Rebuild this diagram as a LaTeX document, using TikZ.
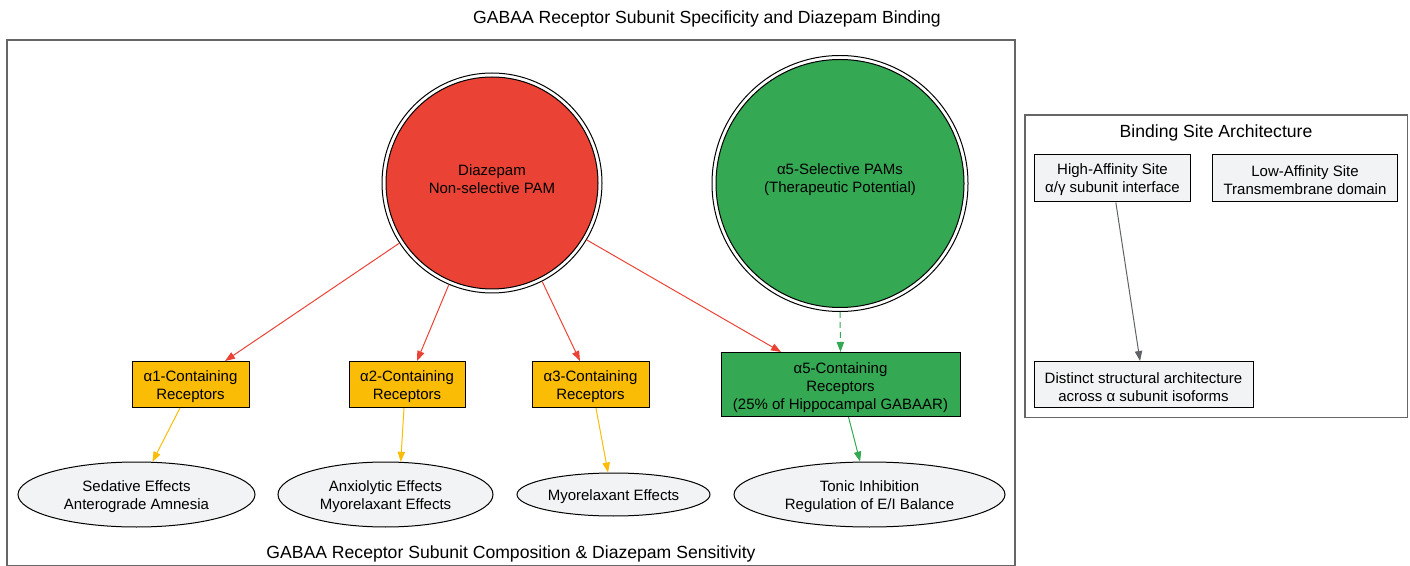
\documentclass[tikz,border=0pt]{standalone}
\usepackage{fontspec}
\setmainfont{Liberation Sans}
\usetikzlibrary{arrows.meta,shapes.geometric}
\definecolor{gred}{HTML}{EA4335}
\definecolor{gyel}{HTML}{FBBC05}
\definecolor{ggrn}{HTML}{34A853}
\definecolor{glt}{HTML}{F1F3F4}
\definecolor{ggry}{HTML}{5F6368}
\definecolor{clus}{HTML}{666666}
\begin{document}
\begin{tikzpicture}[x=0.75pt,y=-0.75pt,
  every node/.style={font=\fontsize{11.25}{13.5}\selectfont, align=center, inner sep=0pt},
  box/.style={draw=black, line width=0.75pt, rectangle},
  eff/.style={draw=black, line width=0.75pt, ellipse, fill=glt},
  arr/.style={line width=0.75pt, -{Triangle[length=7.5pt,width=5.5pt]}},
  lbl/.style={font=\fontsize{13.2}{16}\selectfont},
  clusterbox/.style={draw=clus, line width=0.9pt}]
\useasboundingbox (0,0) rectangle (1410,566);
\node[lbl] (title) at (707,19) {GABAA Receptor Subunit Specificity and Diazepam Binding};
% clusters
\draw[clusterbox] (7,40) rectangle (1015,565.5);
\node[lbl] (lblA) at (511,554) {GABAA Receptor Subunit Composition \& Diazepam Sensitivity};
\draw[clusterbox] (1025,115) rectangle (1407.5,417.5);
\node[lbl] (lblB) at (1216,133) {Binding Site Architecture};
% circles
\node[circle, draw, line width=0.75pt, minimum size=165pt, fill=white] (dz) at (492,183) {};
\node[circle, draw, line width=0.75pt, minimum size=159pt, fill=gred,
  label={[yshift=2.6pt]center:{Diazepam\\Non-selective PAM}}] (dzi) at (492,183) {};
\node[circle, draw, line width=0.75pt, minimum size=192pt, fill=white] (pam) at (840,183.5) {};
\node[circle, draw, line width=0.75pt, minimum size=186pt, fill=ggrn,
  label={[yshift=2.6pt]center:{α5-Selective PAMs\\(Therapeutic Potential)}}] (pami) at (840,183.5) {};
% receptor boxes
\node[box, fill=gyel, minimum width=87.75pt, minimum height=34.5pt,
  label={[yshift=-1.9pt]center:{α1-Containing\\Receptors}}] (a1) at (190.5,384.5) {};
\node[box, fill=gyel, minimum width=87pt, minimum height=34.5pt,
  label={[yshift=-1.9pt]center:{α2-Containing\\Receptors}}] (a2) at (407,384.5) {};
\node[box, fill=gyel, minimum width=87.75pt, minimum height=34.5pt,
  label={[yshift=-1.9pt]center:{α3-Containing\\Receptors}}] (a3) at (590.5,384.5) {};
\node[box, fill=ggrn, minimum width=179.25pt, minimum height=48pt,
  label={[yshift=-2.25pt]center:{α5-Containing\\Receptors\\(25\% of Hippocampal GABAAR)}}] (a5) at (840.5,384.5) {};
% effects
\node[eff, minimum width=177.75pt, minimum height=48.75pt,
  label={[yshift=-1.5pt]center:{Sedative Effects\\Anterograde Amnesia}}] (sed) at (136.5,494.5) {};
\node[eff, minimum width=161.25pt, minimum height=48.75pt,
  label={[yshift=-1.5pt]center:{Anxiolytic Effects\\Myorelaxant Effects}}] (anx) at (385.5,494.5) {};
\node[eff, minimum width=144.75pt, minimum height=32.25pt,
  label={[yshift=-1.5pt]center:{Myorelaxant Effects}}] (myo) at (613.5,494.5) {};
\node[eff, minimum width=203.25pt, minimum height=48.75pt,
  label={[yshift=-1.5pt]center:{Tonic Inhibition\\Regulation of E/I Balance}}] (ton) at (869.5,494.5) {};
% binding site
\node[box, fill=glt, minimum width=117pt, minimum height=35.25pt,
  label={[yshift=-1.1pt]center:{High-Affinity Site\\α/γ subunit interface}}] (hi) at (1112.5,178.5) {};
\node[box, fill=glt, minimum width=139pt, minimum height=35.25pt,
  label={[yshift=-1.1pt]center:{Low-Affinity Site\\Transmembrane domain}}] (lo) at (1305,178.5) {};
\node[box, fill=glt, minimum width=164.25pt, minimum height=34.5pt,
  label={[yshift=-1.9pt]center:{Distinct structural architecture\\across α subunit isoforms}}] (dis) at (1143.5,384.5) {};
% edges
\draw[arr, gred] (dz.213) -- ([xshift=25.9pt]a1.north);
\draw[arr, gred] (dz.247) -- ([xshift=7.5pt]a2.north);
\draw[arr, gred] (dz.297) -- ([xshift=-7.9pt]a3.north);
\draw[arr, gred] (dz.329) -- ([xshift=-44.6pt]a5.north);
\draw[arr, ggrn, dash pattern=on 4.5pt off 3pt] (pam.south) -- (a5.north);
\draw[arr, gyel] ([xshift=-7.9pt]a1.south) -- (sed.64);
\draw[arr, gyel] ([xshift=-2.25pt]a2.south) -- (anx.65);
\draw[arr, gyel] ([xshift=4.1pt]a3.south) -- (myo.104);
\draw[arr, ggrn] ([xshift=6pt]a5.south) -- (ton.106);
\draw[arr, ggry] ([xshift=2.5pt]hi.south) -- ([xshift=-2.6pt]dis.north);
\end{tikzpicture}
\end{document}
